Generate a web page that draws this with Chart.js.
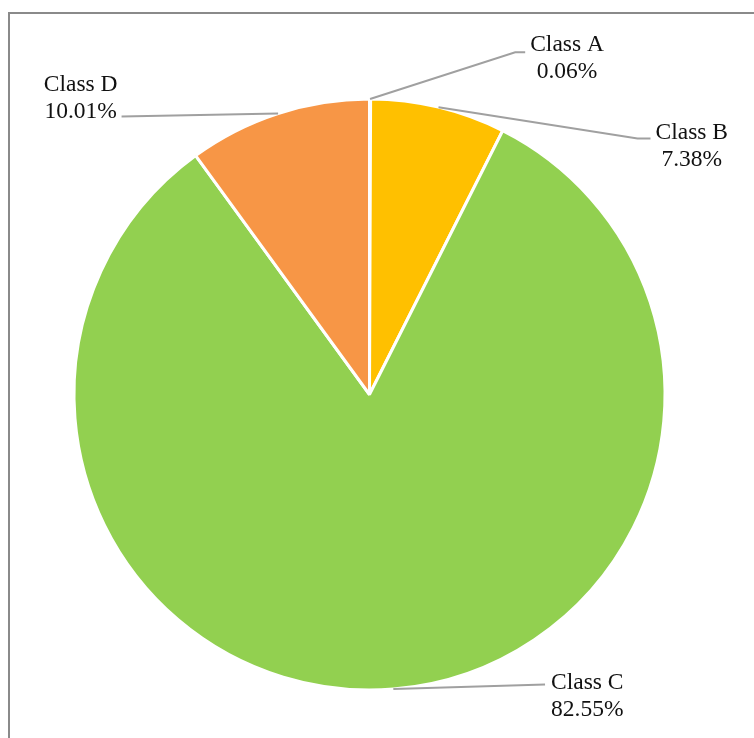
<!DOCTYPE html>
<html>
<head>
<meta charset="utf-8">
<script src="https://cdn.jsdelivr.net/npm/chart.js@4/dist/chart.umd.min.js"></script>
<style>
  html, body { margin: 0; padding: 0; background: #ffffff; }
  body { width: 754px; height: 738px; position: relative; overflow: hidden; }
  .frame {
    position: absolute; left: 8px; top: 12px; width: 760px; height: 740px;
    border-top: 2px solid #8a8a8a; border-left: 2px solid #8a8a8a;
    box-sizing: border-box;
  }
  #wrap { position: absolute; left: 0; top: 0; width: 754px; height: 738px; }
</style>
</head>
<body>
<div class="frame"></div>
<div id="wrap"><canvas id="pie" width="754" height="738"></canvas></div>
<script>
// Share of each class, in percent (clockwise from 12 o'clock)
const classNames = ['Class A', 'Class B', 'Class C', 'Class D'];
const classShares = [0.06, 7.38, 82.55, 10.01];
const sliceColors = ['#4F81BD', '#FFC000', '#92D050', '#F79646'];

// Callout placement for each slice label: elbow of the leader line
// (in units of the pie radius, from the pie centre), a short horizontal
// tail in px, and the side the text sits on.
const callouts = [
  { ex: 0.493, ey: -1.158, tail: 10, side: 'right', dx: 5, dy: 6 },
  { ex: 0.907, ey: -0.866, tail: 13, side: 'right', dx: 5, dy: 7.5 },
  { ex: 0.594, ey: 0.981, tail: 0, side: 'right', dx: 6, dy: 11.5 },
  { ex: -0.839, ey: -0.941, tail: 0, side: 'left', dx: -4, dy: -18 }
];

const calloutPlugin = {
  id: 'callouts',
  afterDatasetsDraw(chart) {
    const ctx = chart.ctx;
    const meta = chart.getDatasetMeta(0);
    ctx.save();
    ctx.font = '23.5px "Liberation Serif", "Times New Roman", serif';
    ctx.textBaseline = 'middle';
    ctx.fillStyle = '#111111';
    meta.data.forEach((arc, i) => {
      const c = callouts[i];
      const cx = arc.x, cy = arc.y, R = arc.outerRadius;
      const mid = (arc.startAngle + arc.endAngle) / 2;
      const sx = cx + Math.cos(mid) * R;
      const sy = cy + Math.sin(mid) * R;
      const bx = cx + c.ex * R;
      const by = cy + c.ey * R;
      const endX = bx + (c.side === 'right' ? c.tail : -c.tail);
      ctx.strokeStyle = '#a0a0a0';
      ctx.lineWidth = 2;
      ctx.beginPath();
      ctx.moveTo(sx, sy);
      ctx.lineTo(bx, by);
      ctx.lineTo(endX, by);
      ctx.stroke();

      const lines = [classNames[i], classShares[i].toFixed(2) + '%'];
      const w = Math.max(...lines.map(t => ctx.measureText(t).width));
      const left = c.side === 'right' ? endX + c.dx : endX + c.dx - w;
      const midY = by + c.dy;
      const lh = 27;
      ctx.textAlign = 'center';
      ctx.fillText(lines[0], left + w / 2, midY - lh / 2);
      ctx.fillText(lines[1], left + w / 2, midY + lh / 2);
    });
    ctx.restore();
  }
};

new Chart(document.getElementById('pie'), {
  type: 'pie',
  data: {
    labels: classNames,
    datasets: [{
      data: classShares,
      backgroundColor: sliceColors,
      borderColor: '#ffffff',
      borderWidth: 3
    }]
  },
  options: {
    responsive: false,
    animation: false,
    layout: { padding: { left: 72.5, right: 87.5, top: 97.5, bottom: 46.5 } },
    plugins: {
      legend: { display: false },
      tooltip: { enabled: false }
    }
  },
  plugins: [calloutPlugin]
});
</script>
</body>
</html>
